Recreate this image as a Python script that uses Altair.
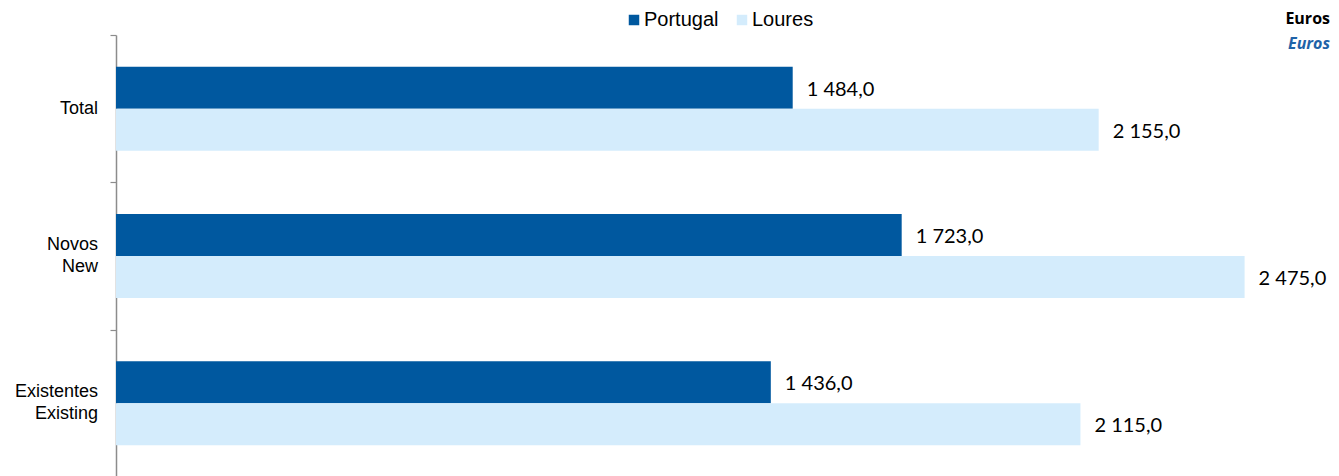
import altair as alt
import pandas as pd

categories = ["Total", "Novos|New", "Existentes|Existing"]
series = ["Portugal", "Loures"]
portugal = [1484.0, 1723.0, 1436.0]
loures = [2155.0, 2475.0, 2115.0]
colors = ["#00589F", "#D4ECFC"]
unit_lines = ["Euros", "Euros"]


def fmt(v):
    return f"{v:,.1f}".replace(",", " ").replace(".", ",")


rows = []
for i, c in enumerate(categories):
    rows.append({"category": c, "series": series[0], "value": portugal[i], "label": fmt(portugal[i])})
    rows.append({"category": c, "series": series[1], "value": loures[i], "label": fmt(loures[i])})
df = pd.DataFrame(rows)

lab_rows = []
for c in categories:
    parts = c.split("|")
    lab_rows.append({"category": c, "line1": parts[0], "line2": parts[1] if len(parts) > 1 else ""})
lab_df = pd.DataFrame(lab_rows)
single_df = lab_df[lab_df["line2"] == ""]
double_df = lab_df[lab_df["line2"] != ""]

W = 1195
H = 442
PAD_R = 20
XMAX = W / 0.456

y_enc = alt.Y(
    "category:N",
    sort=categories,
    scale=alt.Scale(paddingInner=0, paddingOuter=0),
    axis=alt.Axis(title=None, labels=False, tickBand="extent"),
)

base = alt.Chart(df).encode(
    y=y_enc,
    yOffset=alt.YOffset(
        "series:N", sort=series, scale=alt.Scale(paddingInner=0, paddingOuter=0.754)
    ),
    x=alt.X("value:Q", scale=alt.Scale(domain=[0, XMAX], nice=False, zero=True), axis=None),
)

bars = base.mark_bar().encode(
    color=alt.Color(
        "series:N",
        sort=series,
        scale=alt.Scale(domain=series, range=colors),
        legend=alt.Legend(
            title=None,
            orient="none",
            legendX=508,
            legendY=-25,
            direction="horizontal",
            symbolType="square",
            symbolSize=110,
            symbolStrokeWidth=0,
            labelFont="Liberation Sans",
            labelFontSize=20,
            labelColor="#000000",
            labelOffset=0,
            columnPadding=13,
        ),
    )
)

values_text = base.mark_text(
    align="left", baseline="middle", dx=14, dy=2, font="Lato", fontSize=20, color="#000000"
).encode(text="label:N")

lab_style = dict(align="right", baseline="middle", font="Liberation Sans", fontSize=18, color="#000000")
lab_y = alt.Y("category:N", sort=categories)
lab_single = alt.Chart(single_df).mark_text(**lab_style).encode(
    y=lab_y, x=alt.value(-18), text="line1:N"
)
lab_top = alt.Chart(double_df).mark_text(dy=-11, **lab_style).encode(
    y=lab_y, x=alt.value(-18), text="line1:N"
)
lab_bottom = alt.Chart(double_df).mark_text(dy=11, **lab_style).encode(
    y=lab_y, x=alt.value(-18), text="line2:N"
)

unit_df = pd.DataFrame({"t": [unit_lines[0]]})
unit_df2 = pd.DataFrame({"t": [unit_lines[1]]})
unit1 = alt.Chart(unit_df).mark_text(
    align="right", baseline="middle", font="Open Sans", fontSize=16, fontWeight="bold", color="#000000"
).encode(text="t:N", x=alt.value(W + PAD_R - 1), y=alt.value(-16))
unit2 = alt.Chart(unit_df2).mark_text(
    align="right", baseline="middle", font="Open Sans", fontSize=16, fontWeight="bold",
    fontStyle="italic", color="#1F63A8"
).encode(text="t:N", x=alt.value(W + PAD_R - 1), y=alt.value(9))

chart = (
    alt.layer(bars, values_text, lab_single, lab_top, lab_bottom, unit1, unit2)
    .properties(
        width=W,
        height=H,
        autosize=alt.AutoSizeParams(type="none"),
        padding={"left": 108, "top": 27, "right": PAD_R, "bottom": 0},
    )
    .configure_view(stroke=None)
    .configure_axis(
        domainColor="#8C8C8C",
        domainWidth=1.5,
        tickColor="#8C8C8C",
        tickSize=6,
        tickWidth=1.2,
        grid=False,
    )
)

chart.save("out.html", embed_options={"renderer": "svg", "actions": False})
